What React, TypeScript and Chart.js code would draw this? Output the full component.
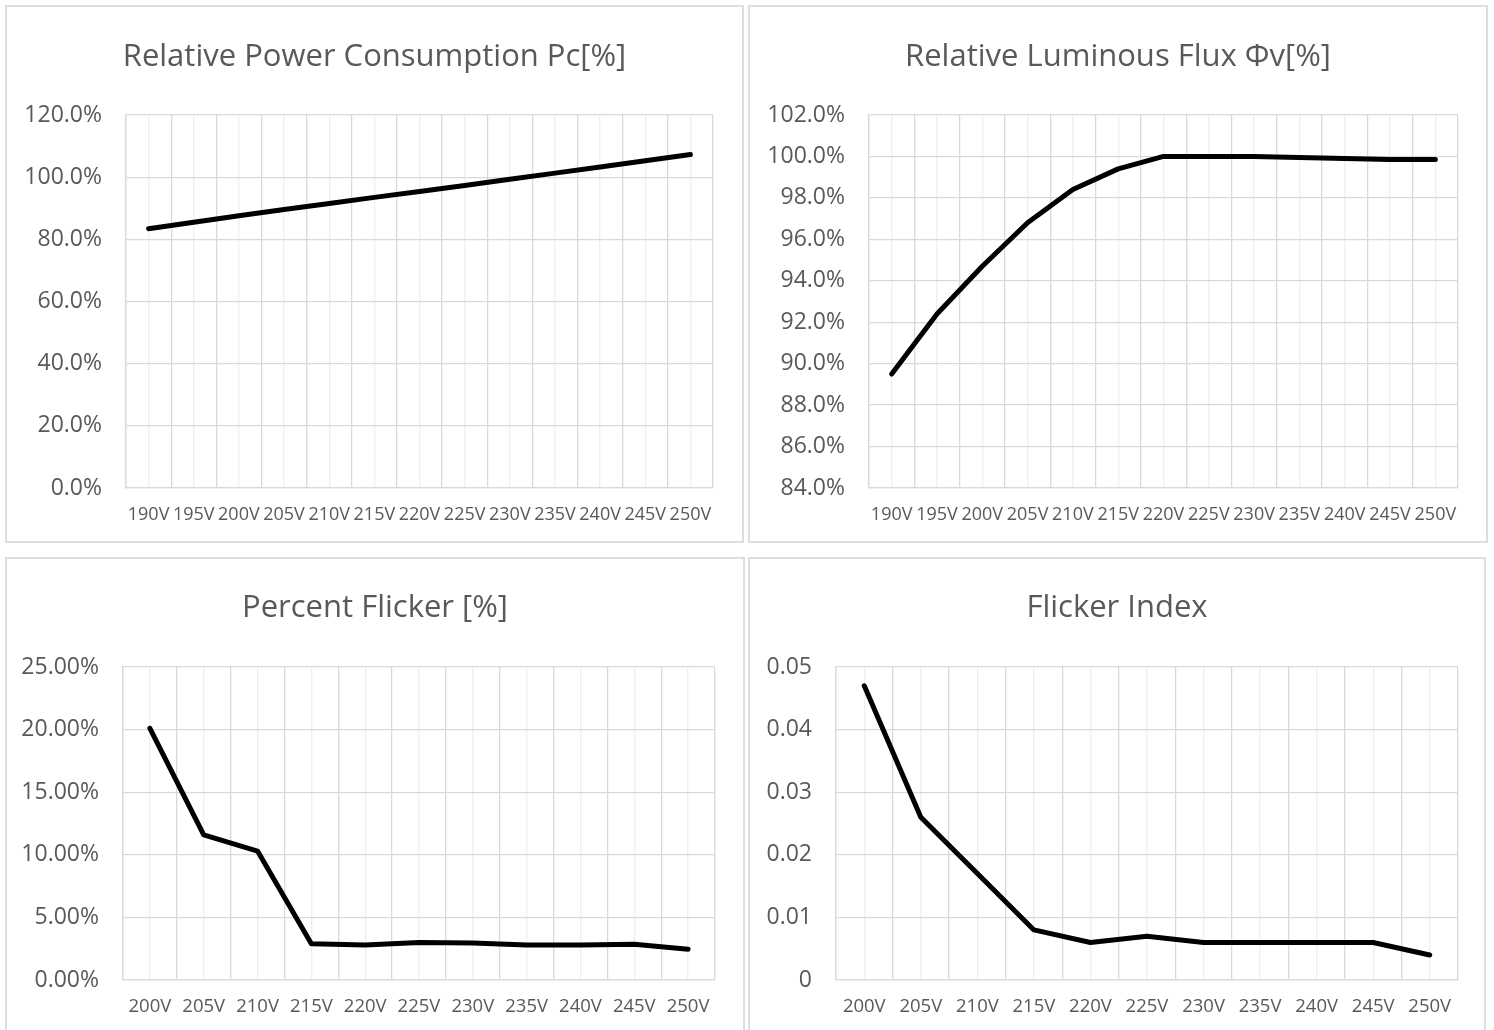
import React, { useEffect, useRef } from 'react';
import { Chart, registerables } from 'chart.js';

Chart.register(...registerables);

// ---- data ----
const voltsWide = ['190V', '195V', '200V', '205V', '210V', '215V', '220V', '225V', '230V', '235V', '240V', '245V', '250V'];
const voltsNarrow = ['200V', '205V', '210V', '215V', '220V', '225V', '230V', '235V', '240V', '245V', '250V'];

const powerPct = [83.4, 85.5, 87.6, 89.6, 91.5, 93.5, 95.4, 97.3, 99.3, 101.3, 103.3, 105.3, 107.3];
const fluxPct = [89.5, 92.4, 94.7, 96.8, 98.4, 99.4, 100.0, 100.0, 100.0, 99.95, 99.9, 99.85, 99.85];
const flickerPct = [20.1, 11.6, 10.3, 2.9, 2.8, 3.0, 2.95, 2.8, 2.8, 2.85, 2.45];
const flickerIndex = [0.047, 0.026, 0.017, 0.008, 0.006, 0.007, 0.006, 0.006, 0.006, 0.006, 0.004];

const powerAxis = [0, 120, 20];
const fluxAxis = [84, 102, 2];
const flickerPctAxis = [0, 25, 5];
const flickerIndexAxis = [0, 0.05, 0.01];

const FONT = "'Open Sans', 'Noto Sans', sans-serif";
const TEXT = '#595959';
const GRID = '#d9d9d9';
const GRID_LIGHT = '#efefef';

type PanelProps = {
  left: number;
  top: number;
  width: number;
  height: number;
  title: string;
  labels: string[];
  values: number[];
  axis: number[];
  fmt: (v: number) => string;
  plot: { l: number; r: number; t: number; b: number };
  titleCenter: number;
  xFont: number;
};

function Panel(p: PanelProps) {
  const ref = useRef<HTMLCanvasElement | null>(null);
  const cw = p.width - 4;
  const ch = p.height - 4;
  useEffect(() => {
    if (!ref.current) return;
    const titleLH = 31 * 1.2;
    const titleTop = p.titleCenter - titleLH / 2;
    const chart = new Chart(ref.current, {
      type: 'line',
      data: {
        labels: p.labels,
        datasets: [
          {
            data: p.values,
            borderColor: '#000000',
            borderWidth: 5,
            pointRadius: 0,
            tension: 0,
            fill: false,
            borderCapStyle: 'round',
            borderJoinStyle: 'round',
            xAxisID: 'x',
            yAxisID: 'y',
          },
        ],
      },
      options: {
        responsive: false,
        animation: false,
        devicePixelRatio: 1,
        layout: { padding: 0 },
        plugins: {
          legend: { display: false },
          tooltip: { enabled: false },
          title: {
            display: true,
            text: p.title,
            color: TEXT,
            font: { family: FONT, size: 31, weight: 'normal', lineHeight: 1.2 },
            padding: { top: titleTop, bottom: p.plot.t - titleTop - titleLH },
          },
        },
        scales: {
          x: {
            type: 'category',
            offset: true,
            grid: { offset: true, color: GRID, drawTicks: false, lineWidth: 1.3 },
            border: { color: GRID, width: 1.3 },
            ticks: {
              color: TEXT,
              font: { family: FONT, size: p.xFont },
              autoSkip: false,
              maxRotation: 0,
              minRotation: 0,
              padding: 16,
            },
            afterFit: (s: any) => {
              s.height = ch - p.plot.b;
            },
          },
          x2: {
            type: 'category',
            position: 'bottom',
            offset: true,
            grid: { offset: false, color: GRID_LIGHT, drawTicks: false, lineWidth: 1.3 },
            border: { display: false },
            ticks: { display: false },
            afterFit: (s: any) => {
              s.height = 0;
            },
          },
          y: {
            min: p.axis[0],
            max: p.axis[1],
            grid: { color: GRID, drawTicks: false, lineWidth: 1.3 },
            border: { color: GRID, width: 1.3 },
            ticks: {
              stepSize: p.axis[2],
              color: TEXT,
              font: { family: FONT, size: 23 },
              padding: 24,
              callback: (v: any) => p.fmt(Number(v)),
            },
            afterFit: (s: any) => {
              s.width = p.plot.l;
            },
          },
          yRightSpace: {
            type: 'linear',
            position: 'right',
            display: true,
            grid: { display: false, drawTicks: false },
            border: { display: false },
            ticks: { display: false },
            afterFit: (s: any) => {
              s.width = cw - p.plot.r;
            },
          },
        },
      } as any,
    });
    return () => chart.destroy();
  }, []);
  return (
    <div
      style={{
        position: 'absolute',
        left: p.left,
        top: p.top,
        width: p.width,
        height: p.height,
        border: '2px solid #dedede',
        boxSizing: 'border-box',
        background: '#fff',
      }}
    >
      <canvas ref={ref} width={cw} height={ch} style={{ display: 'block', width: cw, height: ch }} />
    </div>
  );
}

export default function App() {
  return (
    <div
      style={{
        position: 'fixed',
        left: 0,
        top: 0,
        width: 1494,
        height: 1030,
        background: '#ffffff',
        overflow: 'hidden',
      }}
    >
      <Panel
        left={5}
        top={5}
        width={739}
        height={538}
        title="Relative Power Consumption Pc[%]"
        labels={voltsWide}
        values={powerPct}
        axis={powerAxis}
        fmt={(v) => v.toFixed(1) + '%'}
        plot={{ l: 119, r: 706, t: 108, b: 481 }}
        titleCenter={50}
        xFont={18}
      />
      <Panel
        left={748}
        top={5}
        width={740}
        height={538}
        title="Relative Luminous Flux Φv[%]"
        labels={voltsWide}
        values={fluxPct}
        axis={fluxAxis}
        fmt={(v) => v.toFixed(1) + '%'}
        plot={{ l: 119, r: 708, t: 108, b: 481 }}
        titleCenter={50}
        xFont={18}
      />
      <Panel
        left={5}
        top={557}
        width={740}
        height={480}
        title="Percent Flicker [%]"
        labels={voltsNarrow}
        values={flickerPct}
        axis={flickerPctAxis}
        fmt={(v) => v.toFixed(2) + '%'}
        plot={{ l: 116, r: 708, t: 108, b: 421 }}
        titleCenter={49}
        xFont={18.5}
      />
      <Panel
        left={748}
        top={557}
        width={738}
        height={480}
        title="Flicker Index"
        labels={voltsNarrow}
        values={flickerIndex}
        axis={flickerIndexAxis}
        fmt={(v) => (Math.abs(v) < 1e-9 ? '0' : v.toFixed(2))}
        plot={{ l: 86, r: 708, t: 108, b: 421 }}
        titleCenter={49}
        xFont={18.5}
      />
    </div>
  );
}
